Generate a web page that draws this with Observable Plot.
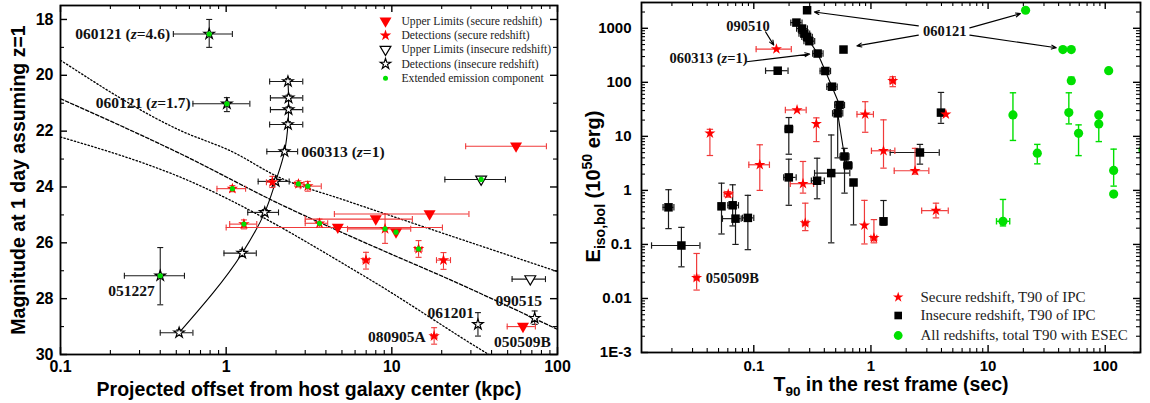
<!DOCTYPE html>
<html><head><meta charset="utf-8">
<script src="https://cdn.jsdelivr.net/npm/d3@7"></script>
<script src="https://cdn.jsdelivr.net/npm/@observablehq/plot@0.6"></script>
<style>
body{margin:0;background:#fff;}
#wrap{position:relative;width:1150px;height:403px;overflow:hidden;}
#left{position:absolute;left:0;top:0;}
#right{position:absolute;left:575px;top:0;}
</style></head>
<body><div id="wrap"><div id="left"></div><div id="right"></div></div>
<script>
// ================= LEFT PANEL DATA =================
const lxTicks = [0.1, 1, 10, 100];
const lxTickLabels = ["0.1", "1", "10", "100"];
const lxMinor = [0.2,0.3,0.4,0.5,0.6,0.7,0.8,0.9,2,3,4,5,6,7,8,9,20,30,40,50,60,70,80,90];
const lyTicks = [18, 20, 22, 24, 26, 28, 30];
const lyTickLabels = ["18", "20", "22", "24", "26", "28", "30"];
const lyMinor = [19, 21, 23, 25, 27, 29];

// Secure redshift, detections (red stars)
const secDetX   = [1.09, 1.90, 2.73, 3.11, 1.28, 3.66, 9.1, 14.5, 6.98, 20.5, 18.0];
const secDetY   = [24.06, 23.83, 23.89, 23.97, 25.33, 25.30, 25.50, 26.22, 26.62, 26.62, 29.34];
const secDetXLo = [0.88, 1.75, 2.60, 2.80, 1.05, 3.00, 5.4, 13.8, 6.7, 18.6, 17.3];
const secDetXHi = [1.31, 2.05, 2.95, 3.75, 1.53, 4.10, 13.0, 15.2, 7.3, 22.6, 18.7];
const secDetYLo = [23.95, 23.62, 23.78, 23.80, 25.18, 25.15, 24.97, 25.92, 26.34, 26.35, 29.04];
const secDetYHi = [24.17, 24.02, 24.00, 24.15, 25.50, 25.45, 26.02, 26.52, 26.94, 26.95, 29.63];
const secDetEE  = [true, false, true, true, true, true, true, true, false, false, false];

// Secure redshift, upper limits (red triangles)
const secULX   = [56.2, 16.9, 8.0, 4.72, 10.6, 61.9];
const secULY   = [22.54, 24.97, 25.15, 25.45, 25.62, 29.00];
const secULXLo = [27.9, 4.5, 3.0, 1.0, null, 49.7];
const secULXHi = [85.7, 29.2, 13.3, 20.2, null, 73.5];
const secULEE  = [false, false, false, false, true, false];

// Insecure redshift, detections (open stars)
const insDetX   = [0.79, 1.01, 0.40, 33.1, 72.8];
const insDetY   = [18.52, 21.02, 27.18, 28.92, 28.70];
const insDetXLo = [0.48, 0.63, 0.243, null, null];
const insDetXHi = [1.09, 1.39, 0.56, null, null];
const insDetYLo = [18.0, 20.8, 26.17, 28.50, 28.44];
const insDetYHi = [19.0, 21.3, 28.22, 29.34, 28.92];
const insDetEE  = [true, true, true, false, false];

// Insecure redshift, upper limits (open triangles)
const insULX   = [34.6, 68.5];
const insULY   = [23.73, 27.30];
const insULXLo = [20.9, 53.2];
const insULXHi = [48.5, 84.6];
const insULEE  = [true, false];

// 060313 at different redshifts (open stars joined by a line)
const trkX   = [2.36, 2.38, 2.38, 2.36, 2.25, 1.99, 1.71, 1.25, 0.52];
const trkY   = [20.22, 20.81, 21.23, 21.76, 22.73, 23.80, 24.91, 26.37, 29.22];
const trkXLo = [1.83, 1.85, 1.85, 1.83, 1.76, 1.56, 1.35, 0.97, 0.40];
const trkXHi = [2.90, 2.90, 2.90, 2.90, 2.70, 2.40, 2.07, 1.52, 0.63];
const trkYLo = [20.12, 20.71, 21.13, 21.66, 22.65, 23.72, 24.81, 26.25, 29.12];
const trkYHi = [20.32, 20.91, 21.33, 21.86, 22.81, 23.88, 25.01, 26.49, 29.32];

// Model curves
const curveAX = [0.1, 0.53, 1.1, 2.0, 5.3, 9.2, 100];
const curveAY = [19.46, 21.98, 22.75, 23.6, 24.49, 24.97, 27.03];
const curveBX = [0.1, 0.53, 2.09, 8.4, 21.1, 100];
const curveBY = [20.84, 22.81, 24.6, 26.22, 27.25, 29.1];
const curveCX = [0.1, 0.53, 7.3, 38.5, 50];
const curveCY = [22.21, 23.65, 27.3, 30.0, 30.4];

// Annotations
const labLEndText = ["060121 (z=4.6)", "060121 (z=1.7)", "061201", "080905A"];
const labLEndX    = [0.459, 0.61, 31.3, 16.0];
const labLEndY    = [18.53, 21.0, 28.53, 29.36];
const labLStartText = ["060313 (z=1)", "051227", "090515", "050509B"];
const labLStartX    = [2.84, 0.194, 42.3, 41.3];
const labLStartY    = [22.75, 27.72, 28.1, 29.54];

const legendL = ["Upper Limits (secure redshift)", "Detections (secure redshift)",
  "Upper Limits (insecure redshift)", "Detections (insecure redshift)", "Extended emission component"];
const xTitleL = "Projected offset from host galaxy center (kpc)";
const yTitleL = "Magnitude at 1 day assuming z=1";

// ================= RIGHT PANEL DATA =================
const rxTicks = [0.1, 1, 10, 100];
const rxTickLabels = ["0.1", "1", "10", "100"];
const rxMinor = [0.02,0.03,0.04,0.05,0.06,0.07,0.08,0.09,0.2,0.3,0.4,0.5,0.6,0.7,0.8,0.9,2,3,4,5,6,7,8,9,20,30,40,50,60,70,80,90,200];
const ryTicks = [0.001, 0.01, 0.1, 1, 10, 100, 1000];
const ryTickLabels = ["1E-3", "0.01", "0.1", "1", "10", "100", "1000"];
const ryMinor = [0.002,0.003,0.004,0.005,0.006,0.007,0.008,0.009,0.02,0.03,0.04,0.05,0.06,0.07,0.08,0.09,
  0.2,0.3,0.4,0.5,0.6,0.7,0.8,0.9,2,3,4,5,6,7,8,9,20,30,40,50,60,70,80,90,200,300,400,500,600,700,800,900,2000,3000];

// Secure redshift, T90 of IPC (red stars)
const rsX   = [0.156, 0.234, 0.342, 0.0422, 0.1125, 0.263, 0.0605, 0.893, 1.535, 1.28, 2.38, 4.36, 0.275, 0.88, 1.06, 3.59, 0.0325];
const rsY   = [412, 30.8, 17.0, 11.4, 2.98, 1.33, 0.855, 25.6, 107, 5.4, 2.31, 25.5, 0.249, 0.226, 0.132, 0.422, 0.0241];
const rsXLo = [0.1047, 0.186, null, null, 0.0907, 0.205, 0.056, 0.76, 1.45, 1.01, 1.58, null, 0.26, null, 1.0, 2.71, 0.031];
const rsXHi = [0.209, 0.28, null, null, 0.136, 0.324, 0.066, 1.05, 1.62, 1.6, 3.12, null, 0.29, null, 1.12, 4.57, 0.034];
const rsYLo = [null, null, 8.0, 4.42, 1.0, 0.89, 0.75, 11.9, 83, 2.58, 2.0, null, 0.18, 0.102, 0.107, 0.31, 0.0143];
const rsYHi = [null, null, 22, 13.5, 6.98, 3.43, 0.95, 43.8, 127, 20.2, 6.0, null, 0.58, 0.654, 0.288, 0.58, 0.068];

// Insecure redshift, T90 of IPC (black squares)
const sqX   = [0.285, 0.583, 0.16, 0.199, 0.199, 0.347, 0.458, 0.0187, 0.0241, 0.053, 0.066, 0.0698, 0.089, 1.28, 3.96, 2.62, 0.71];
const sqY   = [2158, 404, 164, 13.7, 1.74, 1.51, 2.09, 0.486, 0.0955, 0.507, 0.53, 0.30, 0.31, 0.268, 27.5, 5.03, 1.4];
const sqXLo = [null, null, 0.126, 0.185, 0.18, 0.31, 0.33, 0.0168, 0.0134, 0.05, 0.06, 0.054, 0.08, null, null, 1.46, 0.68];
const sqXHi = [null, null, 0.196, 0.215, 0.23, 0.40, 0.66, 0.0208, 0.0347, 0.056, 0.074, 0.078, 0.10, null, null, 3.83, 0.75];
const sqYLo = [null, null, null, 4.67, 0.53, 0.70, 0.107, 0.196, 0.0385, 0.156, 0.22, 0.10, 0.08, 0.226, 17.4, 3.06, 0.23];
const sqYHi = [null, null, null, 22.3, 3.78, 3.94, 10.6, 1.03, 0.207, 1.36, 1.27, 0.53, 0.81, 0.65, 65, 7.1, 1.4];

// 060313 chain (black squares joined by a line)
const chX   = [0.231, 0.258, 0.270, 0.285, 0.298, 0.351, 0.408, 0.465, 0.540, 0.520, 0.595, 0.636];
const chY   = [1274, 988, 798, 694, 578, 341, 162, 83, 38, 26.7, 4.24, 2.9];
const chXLo = [0.207, 0.232, 0.243, 0.257, 0.268, 0.318, 0.368, 0.42, 0.49, 0.47, 0.545, 0.585];
const chXHi = [0.258, 0.287, 0.300, 0.316, 0.331, 0.39, 0.452, 0.515, 0.595, 0.575, 0.65, 0.69];
const chYLo = [null, null, null, null, null, null, null, null, null, 4.0, 0.89, null];
const chYHi = [null, null, null, null, null, null, null, null, null, 44, 6.0, null];

// All redshifts, total T90 with ESEC (green circles)
const gX   = [20.9, 43.5, 51.3, 51.3, 107, 16.3, 48.9, 88.1, 88.1, 59.2, 26.3, 118, 118, 13.4, 210];
const gY   = [2158, 404, 404, 107, 164, 24.9, 27.5, 24.9, 17.0, 11.4, 4.88, 2.34, 0.855, 0.268, 5.6];
const gXLo = [null, null, null, null, null, null, null, null, null, null, null, null, null, 11.8, null];
const gXHi = [null, null, null, null, null, null, null, null, null, null, null, null, null, 15.3, null];
const gYLo = [null, null, null, 95, null, 8.4, 17.0, null, 8.0, 4.4, 3.1, 1.2, null, 0.22, null];
const gYHi = [null, null, null, 125, null, 64, 64, null, 24.9, 16.3, 7.1, 5.8, null, 0.68, null];

// Arrows
const arrX1 = [2.54, 2.54, 6.98, 6.98, 0.126, 0.0867];
const arrY1 = [1107, 746, 1017, 746, 859, 240];
const arrX2 = [0.329, 0.759, 18.9, 38.2, 0.148, 0.30];
const arrY2 = [2008, 473, 1867, 435, 488, 333];

const labRMidText = ["060121", "090510", "060313 (z=1)"];
const labRMidX    = [4.26, 0.0893, 0.0411];
const labRMidY    = [885, 1107, 276];
const labRStartText = ["050509B"];
const labRStartX    = [0.0388];
const labRStartY    = [0.0231];

const legendR = ["Secure redshift, T90 of IPC", "Insecure redshift, T90 of IPC", "All redshifts, total T90 with ESEC"];
const xTitleR = "T90 in the rest frame (sec)";
const yTitleR = "Eiso,bol (10^50 erg)";

// ================= HELPERS =================
const SANS = "'Liberation Sans', Arial, Helvetica, sans-serif";
const SERIF = "'Liberation Serif', 'Times New Roman', serif";
const RED = "#ff0000", RED_BAR = "#f03a3a", BLK_BAR = "#1a1a1a", GREEN = "#00e000";

const capV = {draw(ctx, size) { const r = Math.sqrt(size / Math.PI); ctx.moveTo(0, -r); ctx.lineTo(0, r); }};
const capH = {draw(ctx, size) { const r = Math.sqrt(size / Math.PI); ctx.moveTo(-r, 0); ctx.lineTo(r, 0); }};
const triDown = {draw(ctx, size) { const r = Math.sqrt(size / Math.PI);
  ctx.moveTo(-r, -0.62 * r); ctx.lineTo(r, -0.62 * r); ctx.lineTo(0, 1.1 * r); ctx.closePath(); }};

function rows(xs, ys, xlo, xhi, ylo, yhi, ee) {
  return xs.map((x, i) => ({x, y: ys[i],
    xlo: xlo ? xlo[i] : null, xhi: xhi ? xhi[i] : null,
    ylo: ylo ? ylo[i] : null, yhi: yhi ? yhi[i] : null,
    ee: ee ? ee[i] : false}));
}
function errorBars(data, color, cap = 3, sw = 1.1) {
  const hx = data.filter(d => d.xlo != null && d.xhi != null);
  const vy = data.filter(d => d.ylo != null && d.yhi != null);
  const s = {stroke: color, strokeWidth: sw, clip: true};
  return [
    Plot.ruleY(hx, {y: "y", x1: "xlo", x2: "xhi", ...s}),
    Plot.dot(hx, {x: "xlo", y: "y", symbol: capV, r: cap, fill: "none", ...s}),
    Plot.dot(hx, {x: "xhi", y: "y", symbol: capV, r: cap, fill: "none", ...s}),
    Plot.ruleX(vy, {x: "x", y1: "ylo", y2: "yhi", ...s}),
    Plot.dot(vy, {x: "x", y: "ylo", symbol: capH, r: cap, fill: "none", ...s}),
    Plot.dot(vy, {x: "x", y: "yhi", symbol: capH, r: cap, fill: "none", ...s})
  ];
}
function curveRows(xs, ys) { return xs.map((x, i) => ({x, y: ys[i]})); }
function labelRows(ts, xs, ys) { return ts.map((t, i) => ({t, x: xs[i], y: ys[i]})); }
function tickMap(vals, labels) { const m = new Map(vals.map((v, i) => [v, labels[i]])); return d => m.get(d); }

function frameTicks(xMaj, xMin, yMaj, yMin, fw, fh) {
  const big = 7, small = 4, sw = 1.4;
  return [
    Plot.tickX(xMaj, {x: d => d, insetTop: fh - big, strokeWidth: sw}),
    Plot.tickX(xMaj, {x: d => d, insetBottom: fh - big, strokeWidth: sw}),
    Plot.tickX(xMin, {x: d => d, insetTop: fh - small, strokeWidth: 1.1}),
    Plot.tickX(xMin, {x: d => d, insetBottom: fh - small, strokeWidth: 1.1}),
    Plot.tickY(yMaj, {y: d => d, insetRight: fw - big, strokeWidth: sw}),
    Plot.tickY(yMaj, {y: d => d, insetLeft: fw - big, strokeWidth: sw}),
    Plot.tickY(yMin, {y: d => d, insetRight: fw - small, strokeWidth: 1.1}),
    Plot.tickY(yMin, {y: d => d, insetLeft: fw - small, strokeWidth: 1.1})
  ];
}

function richText(svg) {
  d3.select(svg).selectAll("text").each(function () {
    const t = this.textContent;
    const sel = d3.select(this).style("white-space", "pre");
    let m;
    if (t === xTitleR) {
      sel.text(null);
      sel.append("tspan").text("T");
      sel.append("tspan").attr("dy", 5).attr("font-size", 13.5).text("90");
      sel.append("tspan").attr("dy", -5).text(" in the rest frame (sec)");
    } else if (t === yTitleR) {
      sel.text(null);
      sel.append("tspan").text("E");
      sel.append("tspan").attr("dy", 5).attr("font-size", 14).text("iso,bol");
      sel.append("tspan").attr("dy", -5).text(" (10");
      sel.append("tspan").attr("dy", -8).attr("font-size", 14).text("50");
      sel.append("tspan").attr("dy", 8).text(" erg)");
    } else if ((m = t.match(/^(.*\()z(=.*)$/))) {
      sel.text(null);
      sel.append("tspan").text(m[1]);
      sel.append("tspan").attr("font-style", "italic").text("z");
      sel.append("tspan").text(m[2]);
    }
  });
}

// ================= LEFT PLOT =================
const WL = 575, HL = 403, mL = {t: 5, r: 18, b: 49, l: 60};
const fwL = WL - mL.l - mL.r, fhL = HL - mL.t - mL.b;

const secDet = rows(secDetX, secDetY, secDetXLo, secDetXHi, secDetYLo, secDetYHi, secDetEE);
const secUL = rows(secULX, secULY, secULXLo, secULXHi, null, null, secULEE);
const insDet = rows(insDetX, insDetY, insDetXLo, insDetXHi, insDetYLo, insDetYHi, insDetEE);
const insUL = rows(insULX, insULY, insULXLo, insULXHi, null, null, insULEE);
const trk = rows(trkX, trkY, trkXLo, trkXHi, trkYLo, trkYHi, null);
const eeL = [...secDet, ...secUL, ...insDet, ...insUL].filter(d => d.ee);

const legendSymbolsL = [
  {symbol: triDown, r: 6, fill: RED, stroke: "none"},
  {symbol: "star", r: 3.6, fill: RED, stroke: "none"},
  {symbol: triDown, r: 5.4, fill: "white", stroke: "black"},
  {symbol: "star", r: 3.3, fill: "white", stroke: "black"},
  {symbol: "circle", r: 2.5, fill: GREEN, stroke: "none"}
];
const legendMarksL = legendL.flatMap((txt, i) => {
  const dy = 15.7 + 14.25 * i;
  return [
    Plot.dot([0], {frameAnchor: "top-left", dx: 325, dy, strokeWidth: 1.2, ...legendSymbolsL[i]}),
    Plot.text([txt], {text: d => d, frameAnchor: "top-left", dx: 341, dy, textAnchor: "start",
      lineAnchor: "middle", fontFamily: SERIF, fontWeight: "normal", fontSize: 11.6, fill: "#222"})
  ];
});

const leftPlot = Plot.plot({
  width: WL, height: HL,
  marginTop: mL.t, marginRight: mL.r, marginBottom: mL.b, marginLeft: mL.l,
  style: {fontFamily: SANS, fontWeight: "bold", fontSize: "16px", background: "white", color: "black", overflow: "visible"},
  x: {type: "log", domain: [0.1, 100]},
  y: {domain: [30, 17.5]},
  marks: [
    Plot.line(curveRows(curveAX, curveAY), {x: "x", y: "y", curve: "monotone-x", strokeDasharray: "1.4,2.2", strokeWidth: 1.3, clip: true}),
    Plot.line(curveRows(curveBX, curveBY), {x: "x", y: "y", curve: "monotone-x", strokeDasharray: "3.5,2", strokeWidth: 1.3, clip: true}),
    Plot.line(curveRows(curveCX, curveCY), {x: "x", y: "y", curve: "monotone-x", strokeDasharray: "1.4,2.2", strokeWidth: 1.3, clip: true}),
    Plot.line(trk, {x: "x", y: "y", curve: "monotone-y", strokeWidth: 1.1}),
    ...errorBars(trk, BLK_BAR),
    ...errorBars(insDet, BLK_BAR),
    ...errorBars(insUL, BLK_BAR),
    ...errorBars(secDet, RED_BAR),
    ...errorBars(secUL, RED_BAR),
    Plot.dot(trk, {x: "x", y: "y", symbol: "star", r: 3.3, fill: "white", stroke: "black", strokeWidth: 1.2}),
    Plot.dot(insDet, {x: "x", y: "y", symbol: "star", r: 3.3, fill: "white", stroke: "black", strokeWidth: 1.2}),
    Plot.dot(insUL, {x: "x", y: "y", symbol: triDown, r: 5.4, fill: "white", stroke: "black", strokeWidth: 1.2}),
    Plot.dot(secDet, {x: "x", y: "y", symbol: "star", r: 3.6, fill: RED}),
    Plot.dot(secUL, {x: "x", y: "y", symbol: triDown, r: 6, fill: RED}),
    Plot.dot(eeL, {x: "x", y: "y", symbol: "circle", r: 2.6, fill: GREEN}),
    Plot.text(labelRows(labLEndText, labLEndX, labLEndY), {x: "x", y: "y", text: "t", textAnchor: "end",
      fontFamily: SERIF, fontSize: 15.5, fontWeight: "bold", fill: "#111"}),
    Plot.text(labelRows(labLStartText, labLStartX, labLStartY), {x: "x", y: "y", text: "t", textAnchor: "start",
      fontFamily: SERIF, fontSize: 15.5, fontWeight: "bold", fill: "#111"}),
    ...legendMarksL,
    ...frameTicks(lxTicks, lxMinor, lyTicks, lyMinor, fwL, fhL),
    Plot.frame({stroke: "black", strokeWidth: 1.8}),
    Plot.axisX(lxTicks, {tickSize: 0, tickPadding: 6, tickFormat: tickMap(lxTicks, lxTickLabels), label: null, fontSize: 16}),
    Plot.axisY(lyTicks, {tickSize: 0, tickPadding: 7, tickFormat: tickMap(lyTicks, lyTickLabels), label: null, fontSize: 16}),
    Plot.text([xTitleL], {text: d => d, frameAnchor: "bottom", dy: 35, lineAnchor: "middle", fontSize: 19.5}),
    Plot.text([yTitleL], {text: d => d, frameAnchor: "left", dx: -42, rotate: -90, textAnchor: "middle", lineAnchor: "middle", fontSize: 19.5})
  ]
});
richText(leftPlot);
document.getElementById("left").appendChild(leftPlot);

// ================= RIGHT PLOT =================
const WR = 575, HR = 403, mR = {t: 2, r: 10, b: 51, l: 66};
const fwR = WR - mR.l - mR.r, fhR = HR - mR.t - mR.b;

const rs = rows(rsX, rsY, rsXLo, rsXHi, rsYLo, rsYHi, null);
const sq = rows(sqX, sqY, sqXLo, sqXHi, sqYLo, sqYHi, null);
const ch = rows(chX, chY, chXLo, chXHi, chYLo, chYHi, null);
const gr = rows(gX, gY, gXLo, gXHi, gYLo, gYHi, null);
const arrows = arrX1.map((x1, i) => ({x1, y1: arrY1[i], x2: arrX2[i], y2: arrY2[i]}));

const legendSymbolsR = [
  {symbol: "star", r: 3.3, fill: RED},
  {symbol: "square", r: 4.3, fill: "black"},
  {symbol: "circle", r: 4.4, fill: GREEN}
];
const legendDyR = [-55.3, -37, -17];
const legendMarksR = legendR.flatMap((txt, i) => [
  Plot.dot([0], {frameAnchor: "bottom-left", dx: 256.7, dy: legendDyR[i], ...legendSymbolsR[i]}),
  Plot.text([txt], {text: d => d, frameAnchor: "bottom-left", dx: 279, dy: legendDyR[i], textAnchor: "start",
    lineAnchor: "middle", fontFamily: SERIF, fontWeight: "normal", fontSize: 15, fill: "#222"})
]);

const rightPlot = Plot.plot({
  width: WR, height: HR,
  marginTop: mR.t, marginRight: mR.r, marginBottom: mR.b, marginLeft: mR.l,
  style: {fontFamily: SANS, fontWeight: "bold", fontSize: "15px", background: "white", color: "black", overflow: "visible"},
  x: {type: "log", domain: [0.011, 200]},
  y: {type: "log", domain: [0.001, 3000]},
  marks: [
    ...errorBars(sq, BLK_BAR, 3.2, 1.2),
    ...errorBars(ch, BLK_BAR, 3.2, 1.2),
    ...errorBars(rs, RED_BAR, 3.2, 1.2),
    ...errorBars(gr, GREEN, 3.2, 1.4),
    Plot.line(ch, {x: "x", y: "y", strokeWidth: 1.1}),
    Plot.dot(sq, {x: "x", y: "y", symbol: "square", r: 4.8, fill: "black", clip: true}),
    Plot.dot(ch, {x: "x", y: "y", symbol: "square", r: 4.8, fill: "black", clip: true}),
    Plot.dot(rs, {x: "x", y: "y", symbol: "star", r: 3.5, fill: RED, clip: true}),
    Plot.dot(gr, {x: "x", y: "y", symbol: "circle", r: 4.6, fill: GREEN, clip: true}),
    Plot.arrow(arrows, {x1: "x1", y1: "y1", x2: "x2", y2: "y2", stroke: "black", strokeWidth: 1.1, headLength: 7, headAngle: 45}),
    Plot.text(labelRows(labRMidText, labRMidX, labRMidY), {x: "x", y: "y", text: "t", textAnchor: "middle",
      fontFamily: SERIF, fontSize: 14.5, fontWeight: "bold", fill: "#111"}),
    Plot.text(labelRows(labRStartText, labRStartX, labRStartY), {x: "x", y: "y", text: "t", textAnchor: "start",
      fontFamily: SERIF, fontSize: 14.5, fontWeight: "bold", fill: "#111"}),
    ...legendMarksR,
    ...frameTicks(rxTicks, rxMinor, ryTicks, ryMinor, fwR, fhR),
    Plot.frame({stroke: "black", strokeWidth: 1.8}),
    Plot.axisX(rxTicks, {tickSize: 0, tickPadding: 8, tickFormat: tickMap(rxTicks, rxTickLabels), label: null, fontSize: 15}),
    Plot.axisY(ryTicks, {tickSize: 0, tickPadding: 10, tickFormat: tickMap(ryTicks, ryTickLabels), label: null, fontSize: 15}),
    Plot.text([xTitleR], {text: d => d, frameAnchor: "bottom", dy: 32, lineAnchor: "middle", fontSize: 19.5}),
    Plot.text([yTitleR], {text: d => d, frameAnchor: "left", dx: -47.5, dy: 9, rotate: -90, textAnchor: "middle", lineAnchor: "middle", fontSize: 20})
  ]
});
richText(rightPlot);
document.getElementById("right").appendChild(rightPlot);
</script>
</body></html>
